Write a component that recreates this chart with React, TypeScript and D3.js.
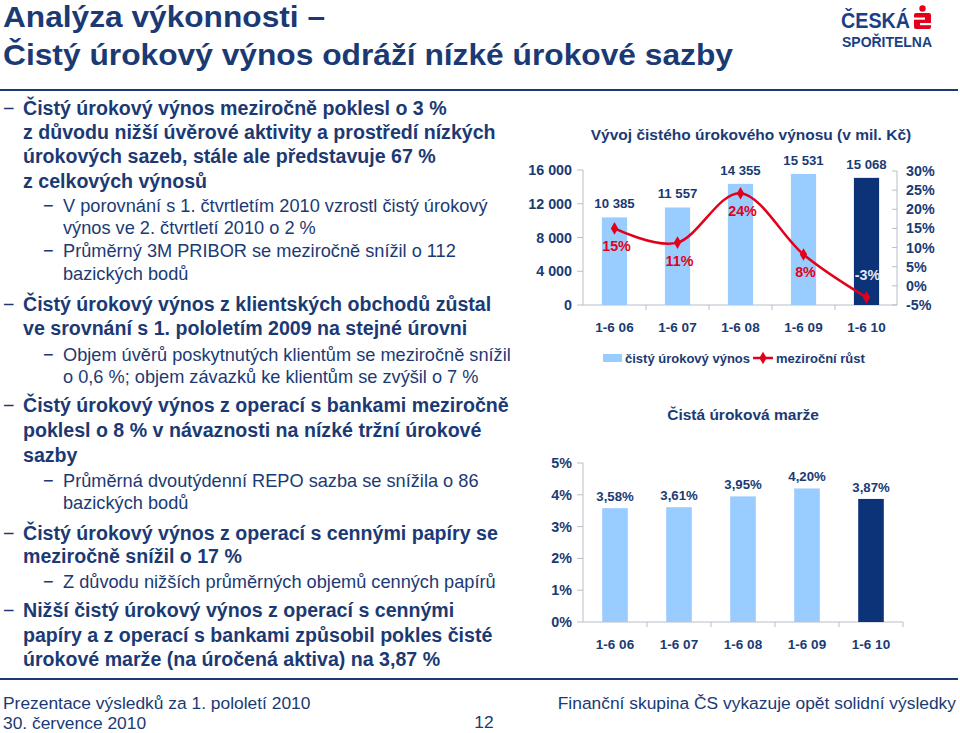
import React from "react";
import * as d3 from "d3";

// ---------- data ----------
const periods = ["1-6 06", "1-6 07", "1-6 08", "1-6 09", "1-6 10"];
const netInterestIncome = [10385, 11557, 14355, 15531, 15068];
const yoyGrowth = [15, 11.3, 24.2, 8.2, -3.0];
const incomeTicks = [0, 4000, 8000, 12000, 16000];
const growthTicks = [-5, 0, 5, 10, 15, 20, 25, 30];
const netInterestMargin = [3.58, 3.61, 3.95, 4.2, 3.87];
const marginTicks = [0, 1, 2, 3, 4, 5];

const titleLines = ["Analýza výkonnosti –", "Čistý úrokový výnos odráží nízké úrokové sazby"];
const titleWidths = [322, 730];

type Line = { t: string; lvl: number; dash: boolean; y: number };
const bulletLines: Line[] = [
  { t: "Čistý úrokový výnos meziročně poklesl o 3 %", lvl: 0, dash: true, y: 115 },
  { t: "z důvodu nižší úvěrové aktivity a prostředí nízkých", lvl: 0, dash: false, y: 139 },
  { t: "úrokových sazeb, stále ale představuje 67 %", lvl: 0, dash: false, y: 163 },
  { t: "z celkových výnosů", lvl: 0, dash: false, y: 188 },
  { t: "V porovnání s 1. čtvrtletím 2010 vzrostl čistý úrokový", lvl: 1, dash: true, y: 212 },
  { t: "výnos ve 2. čtvrtletí 2010 o 2 %", lvl: 1, dash: false, y: 234 },
  { t: "Průměrný 3M PRIBOR se meziročně snížil o 112", lvl: 1, dash: true, y: 257 },
  { t: "bazických bodů", lvl: 1, dash: false, y: 280 },
  { t: "Čistý úrokový výnos z klientských obchodů zůstal", lvl: 0, dash: true, y: 311 },
  { t: "ve srovnání s 1. pololetím 2009 na stejné úrovni", lvl: 0, dash: false, y: 335 },
  { t: "Objem úvěrů poskytnutých klientům se meziročně snížil", lvl: 1, dash: true, y: 361 },
  { t: "o 0,6 %; objem závazků ke klientům se zvýšil o 7 %", lvl: 1, dash: false, y: 383 },
  { t: "Čistý úrokový výnos z operací s bankami meziročně", lvl: 0, dash: true, y: 412 },
  { t: "poklesl o 8 % v návaznosti na nízké tržní úrokové", lvl: 0, dash: false, y: 437 },
  { t: "sazby", lvl: 0, dash: false, y: 462 },
  { t: "Průměrná dvoutýdenní REPO sazba se snížila o 86", lvl: 1, dash: true, y: 487 },
  { t: "bazických bodů", lvl: 1, dash: false, y: 509 },
  { t: "Čistý úrokový výnos z operací s cennými papíry se", lvl: 0, dash: true, y: 540 },
  { t: "meziročně snížil o 17 %", lvl: 0, dash: false, y: 563 },
  { t: "Z důvodu nižších průměrných objemů cenných papírů", lvl: 1, dash: true, y: 588 },
  { t: "Nižší čistý úrokový výnos z operací s cennými", lvl: 0, dash: true, y: 617 },
  { t: "papíry a z operací s bankami způsobil pokles čisté", lvl: 0, dash: false, y: 642 },
  { t: "úrokové marže (na úročená aktiva) na 3,87 %", lvl: 0, dash: false, y: 666 },
];

// ---------- styles ----------
const FONT = "'Liberation Sans', Arial, sans-serif";
const NAVY = "#1b3a74";
const LIGHT = "#99ccff";
const DARK = "#0c3277";
const RED = "#e2001a";
const GRID = "#b9bec8";
const TICK_FS = 14.3;
const CAT_FS = 13.5;
const VAL_FS = 13.2;

const loc = d3.formatLocale({ decimal: ",", thousands: " ", grouping: [3], currency: ["", ""], minus: "-" });
const fmtThousands = loc.format(",");
const fmtMargin = (v: number) => loc.format(".2f")(v) + "%";
const fmtPct0 = (v: number) => loc.format(".0f")(v) + "%";

export default function App() {
  // top chart scales
  const xTop = d3.scaleBand<string>().domain(periods).range([583, 898]).paddingInner(0.6).paddingOuter(0.3);
  const yInc = d3.scaleLinear().domain([0, 16000]).range([305, 170]);
  const yGr = d3.scaleLinear().domain([-5, 30]).range([305, 171]);
  const cxTop = (p: string) => (xTop(p) as number) + xTop.bandwidth() / 2;

  const linePath = d3
    .line<number>()
    .x((_, i) => cxTop(periods[i]))
    .y((d) => yGr(d))
    .curve(d3.curveCatmullRom.alpha(0))(yoyGrowth) as string;
  const diamond = d3.symbol().type(d3.symbolDiamond).size(46)() as string;

  // bottom chart scales
  const xBot = d3.scaleBand<string>().domain(periods).range([583, 903]).paddingInner(0.6).paddingOuter(0.3);
  const yMar = d3.scaleLinear().domain([0, 5]).range([622, 463]);
  const cxBot = (p: string) => (xBot(p) as number) + xBot.bandwidth() / 2;

  const last = periods.length - 1;

  return (
    <svg
      width={960}
      height={733}
      style={{ position: "absolute", left: 0, top: 0, background: "#fff" }}
      fontFamily={FONT}
    >
      {/* Title */}
      {titleLines.map((t, i) => (
        <text
          key={t}
          x={3}
          y={27 + i * 38}
          fontSize={30}
          fontWeight="bold"
          fill={NAVY}
          textLength={titleWidths[i]}
          lengthAdjust="spacingAndGlyphs"
        >
          {t}
        </text>
      ))}
      <line x1={0} x2={958} y1={90} y2={90} stroke={NAVY} strokeWidth={2} />
      <line x1={0} x2={958} y1={679} y2={679} stroke={NAVY} strokeWidth={2} />

      {/* Logo */}
      <g>
        <text x={841} y={28} fontSize={22} fontWeight="bold" fill="#1b3f86" textLength={69} lengthAdjust="spacingAndGlyphs">
          ČESKÁ
        </text>
        <text x={842} y={46.5} fontSize={15} fontWeight="bold" fill="#1b3f86" textLength={90} lengthAdjust="spacingAndGlyphs">
          SPOŘITELNA
        </text>
        <circle cx={922.5} cy={8.5} r={3.2} fill={RED} />
        <rect x={914} y={13} width={17} height={16} rx={2} fill={RED} />
        <rect x={914} y={17.5} width={11} height={2.2} fill="#fff" />
        <rect x={920} y={23} width={11} height={2.2} fill="#fff" />
      </g>

      {/* Bullet text */}
      {bulletLines.map((l, i) => {
        const x = l.lvl === 0 ? 23 : 63;
        const fs = l.lvl === 0 ? 19.6 : 18.2;
        return (
          <g key={i}>
            {l.dash && (
              <text x={l.lvl === 0 ? 3 : 43} y={l.y} fontSize={fs} fill={NAVY}>
                −
              </text>
            )}
            <text x={x} y={l.y} fontSize={fs} fontWeight={l.lvl === 0 ? "bold" : "normal"} fill={NAVY}>
              {l.t}
            </text>
          </g>
        );
      })}

      {/* ---------- Top chart ---------- */}
      <text x={751} y={140} textAnchor="middle" fontSize={15.5} fontWeight="bold" fill={NAVY}>
        Vývoj čistého úrokového výnosu (v mil. Kč)
      </text>
      {/* left axis */}
      <line x1={583} x2={583} y1={yInc(16000)} y2={yInc(0)} stroke={GRID} />
      {incomeTicks.map((t) => (
        <g key={t}>
          <line x1={577} x2={583} y1={yInc(t)} y2={yInc(t)} stroke={GRID} />
          <text x={572} y={yInc(t) + 5} textAnchor="end" fontSize={TICK_FS} fontWeight="bold" fill={NAVY}>
            {fmtThousands(t)}
          </text>
        </g>
      ))}
      {/* right axis */}
      <line x1={897} x2={897} y1={yGr(30)} y2={yGr(-5)} stroke={GRID} />
      {growthTicks.map((t) => (
        <g key={t}>
          <line x1={892} x2={897} y1={yGr(t)} y2={yGr(t)} stroke={GRID} />
          <text x={906} y={yGr(t) + 5} fontSize={TICK_FS} fontWeight="bold" fill={NAVY}>
            {t}%
          </text>
        </g>
      ))}
      {/* x axis */}
      <line x1={583} x2={897} y1={305} y2={305} stroke={GRID} />
      {periods.slice(1).map((p) => (
        <line key={p} x1={xTop(p)! - xTop.step() * 0.3} x2={xTop(p)! - xTop.step() * 0.3} y1={305} y2={310} stroke={GRID} />
      ))}
      {/* bars */}
      {periods.map((p, i) => (
        <rect
          key={p}
          x={xTop(p)}
          y={yInc(netInterestIncome[i])}
          width={xTop.bandwidth()}
          height={yInc(0) - yInc(netInterestIncome[i])}
          fill={i === last ? DARK : LIGHT}
        />
      ))}
      {periods.map((p, i) => (
        <text key={p} x={cxTop(p)} y={yInc(netInterestIncome[i]) - 9} textAnchor="middle" fontSize={VAL_FS} fontWeight="bold" fill={NAVY}>
          {fmtThousands(netInterestIncome[i])}
        </text>
      ))}
      {/* growth line */}
      <path d={linePath} fill="none" stroke={RED} strokeWidth={2.5} />
      {yoyGrowth.map((v, i) => (
        <path key={i} d={diamond} transform={`translate(${cxTop(periods[i])},${yGr(v)})`} fill={RED} />
      ))}
      {yoyGrowth.map((v, i) => (
        <text
          key={i}
          x={cxTop(periods[i]) + (v < 0 ? 1 : 2)}
          y={v < 0 ? yGr(v) - 17 : yGr(v) + 23}
          textAnchor="middle"
          fontSize={14.3}
          fontWeight="bold"
          fill={v < 0 ? "#e4e9f2" : RED}
        >
          {fmtPct0(v)}
        </text>
      ))}
      {/* category labels */}
      {periods.map((p) => (
        <text key={p} x={cxTop(p)} y={332} textAnchor="middle" fontSize={CAT_FS} fontWeight="bold" fill={NAVY}>
          {p}
        </text>
      ))}
      {/* legend */}
      <rect x={603} y={354} width={19} height={8} fill={LIGHT} />
      <text x={625} y={362.5} fontSize={13} fontWeight="bold" fill={NAVY}>
        čistý úrokový výnos
      </text>
      <line x1={753} x2={773} y1={358} y2={358} stroke={RED} strokeWidth={2.5} />
      <path d={diamond} transform="translate(763,358)" fill={RED} />
      <text x={776} y={362.5} fontSize={13} fontWeight="bold" fill={NAVY}>
        meziroční růst
      </text>

      {/* ---------- Bottom chart ---------- */}
      <text x={743} y={420} textAnchor="middle" fontSize={15.5} fontWeight="bold" fill={NAVY}>
        Čistá úroková marže
      </text>
      <line x1={583} x2={583} y1={yMar(5)} y2={yMar(0)} stroke={GRID} />
      {marginTicks.map((t) => (
        <g key={t}>
          <line x1={577} x2={583} y1={yMar(t)} y2={yMar(t)} stroke={GRID} />
          <text x={572} y={yMar(t) + 5} textAnchor="end" fontSize={TICK_FS} fontWeight="bold" fill={NAVY}>
            {t}%
          </text>
        </g>
      ))}
      <line x1={583} x2={903} y1={yMar(0)} y2={yMar(0)} stroke={GRID} />
      {periods.map((p) => (
        <line key={p} x1={xBot(p)! + xBot.bandwidth() + xBot.step() * 0.3} x2={xBot(p)! + xBot.bandwidth() + xBot.step() * 0.3} y1={yMar(0)} y2={yMar(0) + 5} stroke={GRID} />
      ))}
      {periods.map((p, i) => (
        <rect
          key={p}
          x={xBot(p)}
          y={yMar(netInterestMargin[i])}
          width={xBot.bandwidth()}
          height={yMar(0) - yMar(netInterestMargin[i])}
          fill={i === last ? DARK : LIGHT}
        />
      ))}
      {periods.map((p, i) => (
        <text key={p} x={cxBot(p)} y={yMar(netInterestMargin[i]) - 7} textAnchor="middle" fontSize={VAL_FS} fontWeight="bold" fill={NAVY}>
          {fmtMargin(netInterestMargin[i])}
        </text>
      ))}
      {periods.map((p) => (
        <text key={p} x={cxBot(p)} y={649} textAnchor="middle" fontSize={CAT_FS} fontWeight="bold" fill={NAVY}>
          {p}
        </text>
      ))}

      {/* Footer */}
      <text x={3} y={709} fontSize={17.4} fill={NAVY}>Prezentace výsledků za 1. pololetí 2010</text>
      <text x={3} y={729} fontSize={17.4} fill={NAVY}>30. července 2010</text>
      <text x={484} y={728} textAnchor="middle" fontSize={17.4} fill={NAVY}>12</text>
      <text x={956} y={709} textAnchor="end" fontSize={17.4} fill={NAVY}>Finanční skupina ČS vykazuje opět solidní výsledky</text>
    </svg>
  );
}
